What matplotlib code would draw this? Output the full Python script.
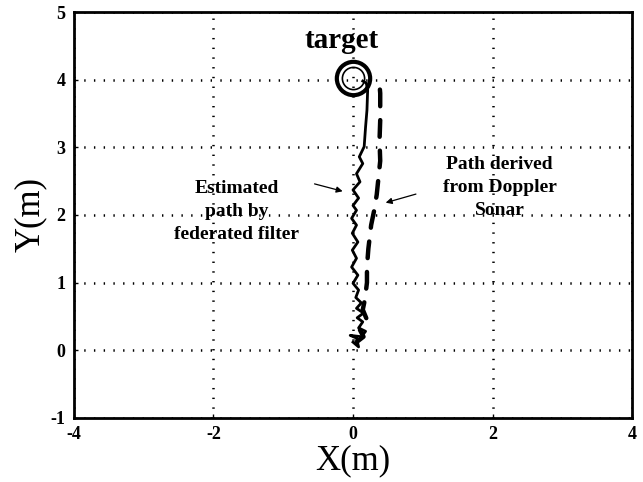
import numpy as np
import matplotlib
matplotlib.use("Agg")
from matplotlib import pyplot as plt

plt.rcParams['font.family'] = ['Liberation Serif', 'DejaVu Serif']
plt.rcParams['lines.scale_dashes'] = False

# path estimated by the federated filter (m)
est_x = [0.00, 0.08, 0.05, -0.04, 0.12, 0.18, 0.08, 0.14, 0.06, 0.15, 0.05, 0.12,
         0.04, 0.08, 0.00, 0.07, -0.02, 0.05, -0.01, 0.07, -0.01, 0.05, -0.02, 0.05,
         0.00, 0.08, 0.00, 0.10, 0.05, 0.14, 0.09, 0.16, 0.18, 0.20, 0.21, 0.19, 0.14]
est_y = [0.12, 0.05, 0.18, 0.22, 0.20, 0.28, 0.33, 0.42, 0.48, 0.55, 0.62, 0.70,
         0.78, 0.89, 0.99, 1.11, 1.23, 1.36, 1.48, 1.60, 1.73, 1.85, 1.95, 2.07,
         2.14, 2.25, 2.37, 2.49, 2.61, 2.76, 2.86, 3.01, 3.30, 3.55, 3.85, 3.95, 3.98]

# path derived from the Doppler sonar (m)
dop_x = [0.05, 0.15, 0.10, 0.20, 0.14, 0.17, 0.20, 0.20, 0.22, 0.26, 0.30, 0.34,
         0.36, 0.39, 0.38, 0.39, 0.39, 0.37]
dop_y = [0.12, 0.20, 0.30, 0.45, 0.60, 0.75, 1.00, 1.23, 1.50, 1.85, 2.05, 2.30,
         2.50, 2.80, 3.10, 3.40, 3.80, 4.05]

target_x, target_y = 0.0, 4.03

xticks = [-4, -2, 0, 2, 4]
yticks = [-1, 0, 1, 2, 3, 4, 5]

fig = plt.figure(figsize=(6.43, 4.82), dpi=100)
ax = fig.add_axes([0.115, 0.133, 0.868, 0.842])

ax.plot(est_x, est_y, color='black', lw=2.0, solid_joinstyle='round')
ax.plot(dop_x, dop_y, color='black', lw=3.2, dashes=[12, 10],
        dash_capstyle='round')

ax.plot(target_x, target_y, 'o', ms=24, mfc='none', mec='black', mew=3)
ax.plot(target_x, target_y, 'o', ms=16, mfc='none', mec='black', mew=1.2)
ax.text(-0.17, 4.58, 'target', fontsize=21, fontweight='bold',
        ha='center', va='center')

ax.text(-1.67, 2.05, 'Estimated\npath by\nfederated filter', fontsize=14,
        fontweight='bold', ha='center', va='center', linespacing=1.45)
ax.annotate('', xy=(-0.11, 2.34), xytext=(-0.59, 2.47),
            arrowprops=dict(arrowstyle='-|>', color='black', lw=0.9,
                            mutation_scale=9))

ax.text(2.1, 2.41, 'Path derived\nfrom Doppler\nSonar', fontsize=14,
        fontweight='bold', ha='center', va='center', linespacing=1.45)
ax.annotate('', xy=(0.43, 2.17), xytext=(0.94, 2.32),
            arrowprops=dict(arrowstyle='-|>', color='black', lw=0.9,
                            mutation_scale=9))

ax.set_xlim(-4, 4)
ax.set_ylim(-1, 5)
ax.set_xticks(xticks)
ax.set_yticks(yticks)
ax.set_xticklabels([str(t) for t in xticks], fontweight='bold', fontsize=13)
ax.set_yticklabels([str(t) for t in yticks], fontweight='bold', fontsize=13)
ax.tick_params(direction='in', length=3, width=1, pad=6)

ax.grid(True, color='black', lw=1.8, linestyle=(0, (1, 6)))
for s in ax.spines.values():
    s.set_linewidth(2)

ax.set_xlabel('X(m)', fontsize=25, labelpad=1)
ax.set_ylabel('Y(m)', fontsize=25, labelpad=3)

fig.savefig('out.png', dpi=100)
